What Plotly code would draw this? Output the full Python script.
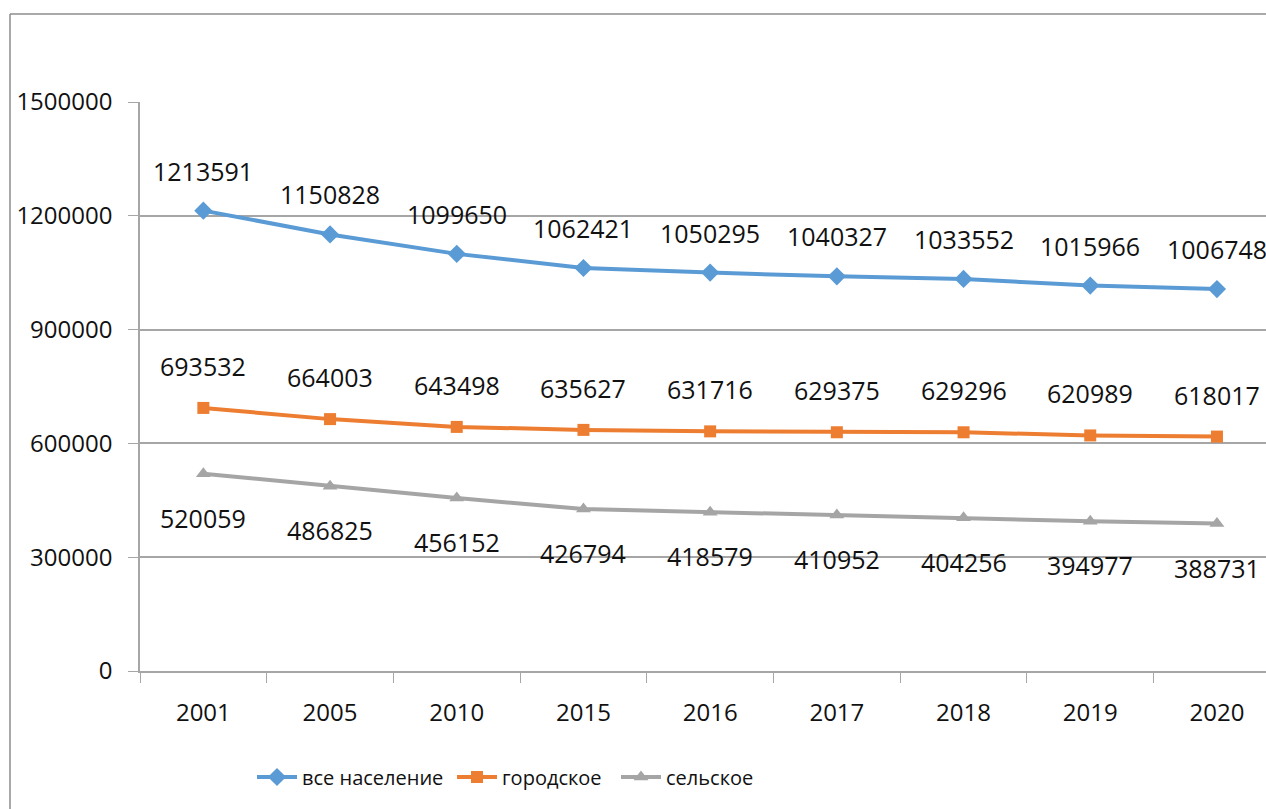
import plotly.graph_objects as go

years = ["2001", "2005", "2010", "2015", "2016", "2017", "2018", "2019", "2020"]
total = [1213591, 1150828, 1099650, 1062421, 1050295, 1040327, 1033552, 1015966, 1006748]
urban = [693532, 664003, 643498, 635627, 631716, 629375, 629296, 620989, 618017]
rural = [520059, 486825, 456152, 426794, 418579, 410952, 404256, 394977, 388731]
names = ["все население", "городское", "сельское"]
y_ticks = [0, 300000, 600000, 900000, 1200000, 1500000]

FONT = "Open Sans"
W, H = 1266, 809
L, T = 140, 102
PB = 671  # bottom of plot in figure px
R, B = 0, H - PB

pw = W - L - R
ph = H - T - B

fig = go.Figure()
series = [
    (total, names[0], "#5B9BD5", "diamond", 14, 40, "legend", 258),
    (urban, names[1], "#ED7D31", "square", 12, 42, "legend2", 458),
    (rural, names[2], "#A5A5A5", "triangle-up", 13, -44, "legend3", 622),
]
annotations = []
legends = {}
for vals, nm, col, sym, ms, shift, lg, lx in series:
    fig.add_trace(go.Scatter(
        x=years, y=vals, name=nm, mode="lines+markers",
        line=dict(color=col, width=4),
        marker=dict(symbol=sym, size=ms, color=col),
        legend=lg,
    ))
    legends[lg] = dict(
        orientation="h", x=(lx - 6 - L) / pw, xanchor="left",
        y=-(777 - PB) / ph, yanchor="middle",
        font=dict(family=FONT, size=20, color="#111111"),
        itemwidth=40, bgcolor="rgba(0,0,0,0)",
    )
    for i, yv in enumerate(vals):
        annotations.append(dict(
            x=i, y=yv, xref="x", yref="y", text=str(yv), showarrow=False,
            yshift=shift, font=dict(family=FONT, size=25, color="#111111"),
        ))

bx = (10 - L) / pw
by_top = 1 + (T - 14) / ph
by_bot = -(H - PB) / ph - 0.02

fig.update_layout(
    width=W, height=H,
    margin=dict(l=L, r=R, t=T, b=B),
    plot_bgcolor="white", paper_bgcolor="white",
    font=dict(family=FONT, size=24, color="#111111"),
    annotations=annotations,
    showlegend=True,
    shapes=[
        dict(type="line", xref="paper", yref="paper", x0=bx, x1=bx, y0=by_bot, y1=by_top,
             line=dict(color="#8c8c8c", width=1.5)),
        dict(type="line", xref="paper", yref="paper", x0=bx, x1=1.02, y0=by_top, y1=by_top,
             line=dict(color="#8c8c8c", width=1.5)),
    ],
    **legends,
)
fig.update_xaxes(
    type="category", range=[-0.5, -0.5 + pw / 126.7],
    showline=True, linecolor="#a6a6a6", linewidth=1.5,
    ticks="outside", tickson="boundaries", ticklen=10, tickcolor="#a6a6a6",
    showgrid=False, zeroline=False,
    tickfont=dict(family=FONT, size=24, color="#111111"),
    ticklabelstandoff=19,
)
fig.update_yaxes(
    range=[0, 1500000], tickvals=y_ticks, tickformat="d",
    showline=True, linecolor="#a6a6a6", linewidth=1.5,
    ticks="outside", ticklen=10, tickcolor="#a6a6a6",
    showgrid=True, gridcolor="#a6a6a6", gridwidth=1.5, zeroline=False,
    tickfont=dict(family=FONT, size=24, color="#111111"),
    ticklabelstandoff=11,
)
fig.write_html(
    "out.html",
    config={"displayModeBar": False},
    post_script="document.body.style.margin='0';document.body.style.overflow='hidden';",
)
